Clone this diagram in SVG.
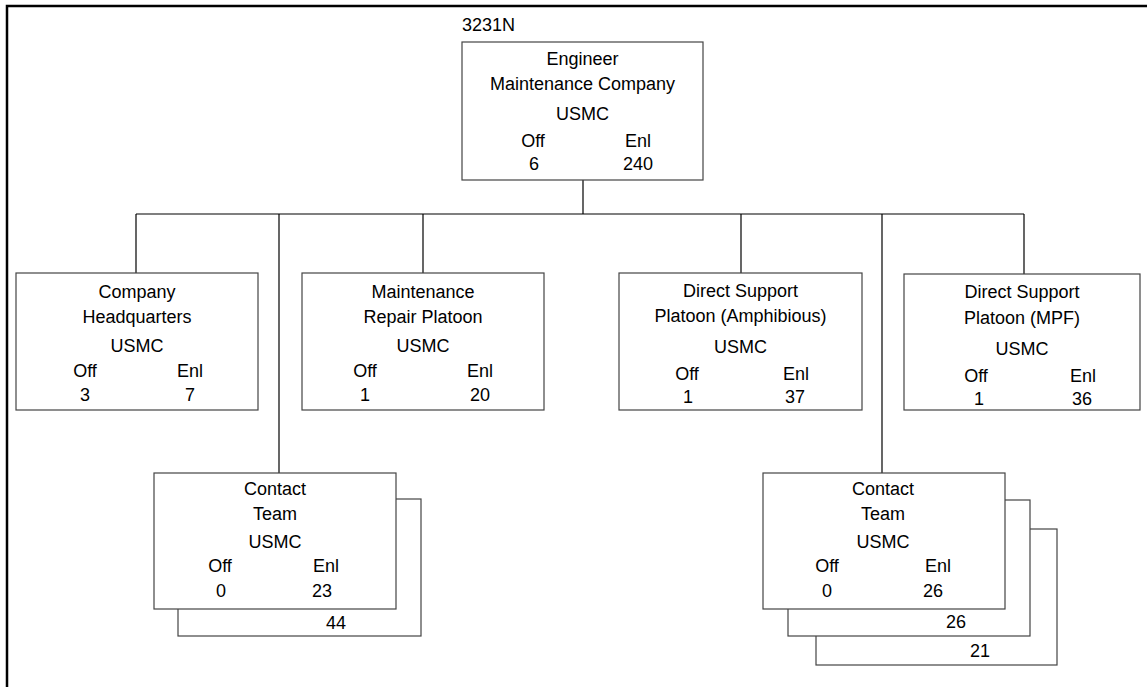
<svg xmlns="http://www.w3.org/2000/svg" width="1147" height="687" viewBox="0 0 1147 687">
<style>
.box{fill:#fff;stroke:#444;stroke-width:1.2}
.ln{stroke:#000;stroke-width:1.2;fill:none}
text{font-family:"Liberation Sans",Arial,sans-serif;font-size:18px;fill:#000;text-anchor:middle}
.frame{stroke:#000;stroke-width:2.5;fill:none}
</style>
<rect width="1147" height="687" fill="#fff"/>
<path class="frame" d="M7,687 V6 H1147"/>
<g id="connectors">
<path class="ln" d="M583,180 V214"/>
<path class="ln" d="M136,214 H1024"/>
<path class="ln" d="M136,214 V273"/>
<path class="ln" d="M279,214 V473"/>
<path class="ln" d="M423,214 V273"/>
<path class="ln" d="M741,214 V273"/>
<path class="ln" d="M882,214 V473"/>
<path class="ln" d="M1024,214 V274"/>
</g>
<g id="top">
<text x="462" y="31" style="text-anchor:start">3231N</text>
<rect class="box" x="462" y="42" width="241" height="138"/>
<text x="582.5" y="65">Engineer</text>
<text x="582.5" y="90">Maintenance Company</text>
<text x="582.5" y="120">USMC</text>
<text x="533" y="147">Off</text>
<text x="638" y="147">Enl</text>
<text x="534" y="170">6</text>
<text x="638" y="170">240</text>
</g>
<g id="hq">
<rect class="box" x="16" y="273" width="242" height="137"/>
<text x="137" y="298">Company</text>
<text x="137" y="323">Headquarters</text>
<text x="137" y="352">USMC</text>
<text x="85" y="377">Off</text>
<text x="190" y="377">Enl</text>
<text x="85" y="401">3</text>
<text x="190" y="401">7</text>
</g>
<g id="mrp">
<rect class="box" x="302" y="273" width="242" height="137"/>
<text x="423" y="298">Maintenance</text>
<text x="423" y="323">Repair Platoon</text>
<text x="423" y="352">USMC</text>
<text x="365" y="377">Off</text>
<text x="480" y="377">Enl</text>
<text x="365" y="401">1</text>
<text x="480" y="401">20</text>
</g>
<g id="dsa">
<rect class="box" x="619" y="273" width="243" height="137"/>
<text x="740.5" y="297">Direct Support</text>
<text x="740.5" y="322">Platoon (Amphibious)</text>
<text x="740.5" y="353">USMC</text>
<text x="687" y="380">Off</text>
<text x="796" y="380">Enl</text>
<text x="688" y="403">1</text>
<text x="795" y="403">37</text>
</g>
<g id="dsm">
<rect class="box" x="904" y="274" width="236" height="136"/>
<text x="1022" y="298">Direct Support</text>
<text x="1022" y="324">Platoon (MPF)</text>
<text x="1022" y="355">USMC</text>
<text x="976" y="382">Off</text>
<text x="1083" y="382">Enl</text>
<text x="979" y="405">1</text>
<text x="1082" y="405">36</text>
</g>
<g id="ct1">
<rect class="box" x="178" y="499" width="243" height="137"/>
<text x="336" y="629">44</text>
<rect class="box" x="154" y="473" width="242" height="136"/>
<text x="275" y="495">Contact</text>
<text x="275" y="520">Team</text>
<text x="275" y="548">USMC</text>
<text x="220" y="572">Off</text>
<text x="326" y="572">Enl</text>
<text x="221" y="597">0</text>
<text x="322" y="597">23</text>
</g>
<g id="ct2">
<rect class="box" x="816" y="529" width="241" height="136"/>
<text x="980" y="657">21</text>
<rect class="box" x="788" y="500" width="242" height="136"/>
<text x="956" y="628">26</text>
<rect class="box" x="763" y="473" width="242" height="136"/>
<text x="883" y="495">Contact</text>
<text x="883" y="520">Team</text>
<text x="883" y="548">USMC</text>
<text x="827" y="572">Off</text>
<text x="938" y="572">Enl</text>
<text x="827" y="597">0</text>
<text x="933" y="597">26</text>
</g>
</svg>
